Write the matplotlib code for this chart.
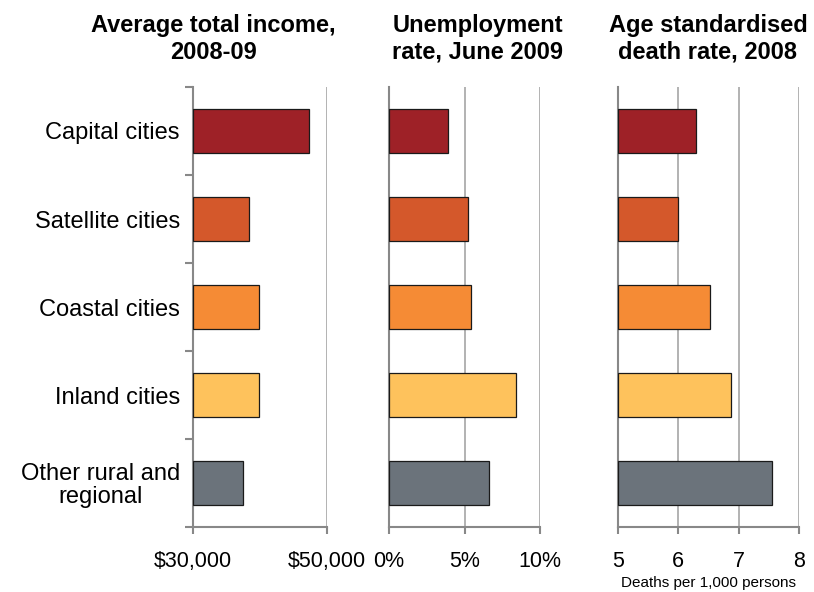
import matplotlib
matplotlib.use("Agg")
import matplotlib.pyplot as plt
import numpy as np

plt.rcParams['font.family'] = ['Liberation Sans', 'DejaVu Sans']

categories = ["Capital cities", "Satellite cities", "Coastal cities", "Inland cities", "Other rural and\nregional"]
income = [47300, 38400, 39900, 39900, 37500]
unemployment = [3.9, 5.25, 5.45, 8.4, 6.65]
death_rate = [6.29, 6.0, 6.53, 6.88, 7.55]
colors = ["#9E2127", "#D4582B", "#F58B35", "#FEC25C", "#6B737B"]

titles = ["Average total income,\n2008-09", "Unemployment\nrate, June 2009", "Age standardised\ndeath rate, 2008"]
xlims = [(30000, 50000), (0, 10), (5, 8)]
xticks = [[30000, 50000], [0, 5, 10], [5, 6, 7, 8]]
xticklabels = [["$30,000", "$50,000"], ["0%", "5%", "10%"], ["5", "6", "7", "8"]]
data = [income, unemployment, death_rate]

W, H = 814, 592
fig = plt.figure(figsize=(W/100, H/100), dpi=100)

lefts = [193, 389, 618]
rights = [327, 540, 799]
title_x = [213, 478, 708]
top, bottom = 87, 527

y = np.arange(len(categories))
for i in range(3):
    ax = fig.add_axes([lefts[i]/W, 1-bottom/H, (rights[i]-lefts[i])/W, (bottom-top)/H])
    base = xlims[i][0]
    widths = [v - base for v in data[i]]
    ax.barh(y, widths, left=base, height=0.5, color=colors,
            edgecolor="#1a1a1a", linewidth=0.9, zorder=3)
    ax.set_xlim(*xlims[i])
    ax.set_ylim(len(categories)-0.5, -0.5)
    ax.set_xticks(xticks[i])
    ax.set_xticklabels(xticklabels[i], fontsize=15.5)
    ax.grid(axis='x', color="#a6a6a6", linewidth=1.2, zorder=0)
    ax.tick_params(axis='x', length=5, color="#888888", width=1.5, pad=12)
    for s in ["top", "right"]:
        ax.spines[s].set_visible(False)
    ax.spines["bottom"].set_color("#888888")
    ax.spines["bottom"].set_linewidth(1.5)
    ax.spines["left"].set_color("#888888")
    ax.spines["left"].set_linewidth(1.5)
    if i == 0:
        ax.set_yticks(np.arange(-0.5, len(categories), 1.0))
        ax.set_yticklabels([])
        ax.set_yticks(y, minor=True)
        ax.set_yticklabels(categories, minor=True, fontsize=17)
        ax.tick_params(axis='y', which='major', length=6, color="#888888", width=1.5)
        ax.tick_params(axis='y', which='minor', length=0, pad=9.5)
        for lab in ax.get_yticklabels(minor=True):
            lab.set_horizontalalignment('right')
            lab.set_multialignment('center')
            lab.set_linespacing(1.05)
    else:
        ax.set_yticks([])
    fig.text(title_x[i]/W, 1-39/H, titles[i], fontsize=17, fontweight='bold',
             ha='center', va='center', linespacing=1.2)
    if i == 2:
        ax.set_xlabel("Deaths per 1,000 persons", fontsize=11, labelpad=3)

fig.savefig("out.png", dpi=100)
